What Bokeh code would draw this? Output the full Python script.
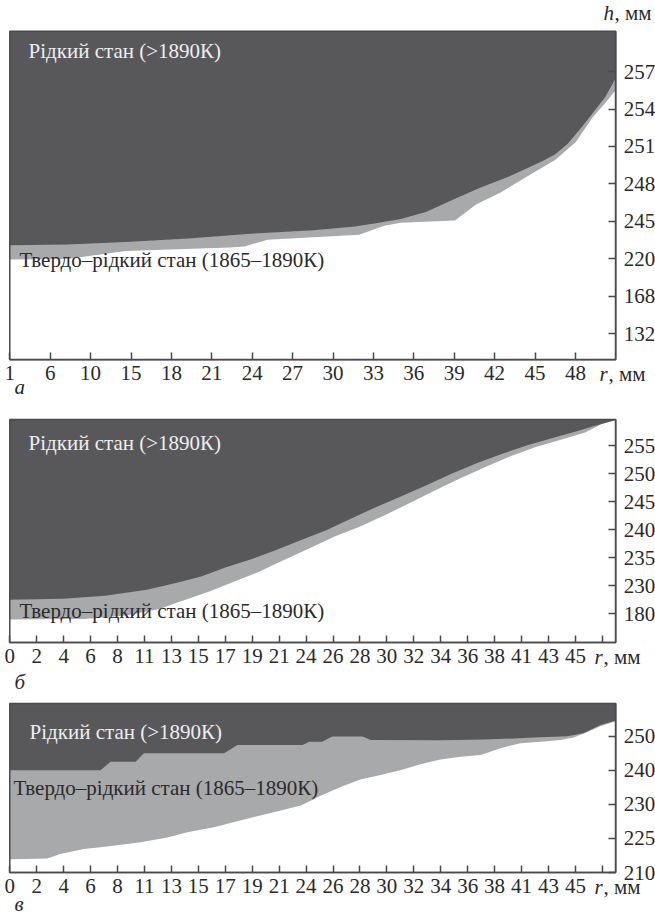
from bokeh.plotting import figure
from bokeh.models import Range1d, Label, FixedTicker, LinearAxis
from bokeh.layouts import column
from bokeh.embed import file_html
from bokeh.resources import INLINE

FONT = "Liberation Serif"
FS = "21px"
DARK = "#58585b"
LIGHT = "#a8a9ab"
EDGE = "#4a4a4a"
INK = "#2b2b2b"

# ---------------- data (positions in axis tick units) ----------------
# panel а
a_x_labels = ["1", "6", "10", "15", "18", "21", "24", "27", "30", "33", "36", "39", "42", "45", "48"]
a_y_labels = ["132", "168", "220", "245", "248", "251", "254", "257"]
a_liq_x = [0, 1.42, 2.87, 4.42, 5.96, 7.51, 8.54, 9.06, 9.68, 10.3, 11.02, 11.64, 12.36, 13.19, 13.5, 13.81, 14.22, 14.74, 15.0]
a_liq_y = [2.36, 2.38, 2.45, 2.54, 2.67, 2.76, 2.86, 2.95, 3.06, 3.25, 3.6, 3.9, 4.2, 4.61, 4.79, 5.07, 5.6, 6.32, 6.83]
a_mush_x = [0, 1.42, 2.87, 5.45, 5.81, 6.38, 8.65, 8.8, 9.27, 9.68, 11.02, 11.54, 12.16, 12.98, 13.5, 14.01, 14.43, 14.74, 15.0]
a_mush_y = [1.98, 1.99, 2.21, 2.3, 2.33, 2.51, 2.64, 2.7, 2.88, 2.96, 3.02, 3.45, 3.78, 4.31, 4.64, 5.12, 5.78, 6.16, 6.51]

# panels б and в share the r labels
bc_x_labels = ["0", "2", "4", "6", "8", "11", "13", "15", "17", "19", "21", "24", "26", "28",
               "30", "32", "34", "36", "38", "41", "43", "45", ""]
# panel б
b_y_labels = ["180", "230", "235", "240", "245", "250", "255"]
b_liq_x = [0, 1.98, 3.53, 5.09, 6.17, 7.1, 8.03, 8.96, 9.89, 10.82, 11.75, 12.68, 13.61, 14.54, 15.47, 16.4, 17.33, 18.26, 19.19, 20.12, 21.05, 21.83, 22.5]
b_liq_y = [0.5, 0.53, 0.64, 0.85, 1.09, 1.33, 1.66, 1.94, 2.27, 2.63, 2.98, 3.4, 3.81, 4.19, 4.58, 4.99, 5.37, 5.7, 6.0, 6.26, 6.51, 6.73, 6.91]
b_mush_x = [0, 2.76, 4.31, 5.55, 6.17, 7.41, 8.34, 9.27, 10.2, 11.13, 12.06, 12.99, 13.92, 14.85, 15.78, 16.71, 17.64, 18.57, 19.5, 20.43, 21.36, 21.98, 22.5]
b_mush_y = [-0.21, -0.19, -0.07, 0.17, 0.38, 0.79, 1.15, 1.5, 1.92, 2.33, 2.75, 3.1, 3.51, 3.95, 4.4, 4.82, 5.23, 5.61, 5.94, 6.2, 6.47, 6.77, 6.91]

# panel в
c_y_labels = ["210", "225", "230", "240", "250"]
c_liq_x = [0, 3.37, 3.74, 4.67, 4.98, 7.96, 8.45, 10.87, 11.12, 11.6, 11.97, 13.1, 13.4, 16.0, 17.6, 19.45, 20.7, 21.3, 21.56, 21.93, 22.5]
c_liq_y = [3.0, 3.0, 3.25, 3.25, 3.5, 3.5, 3.74, 3.74, 3.84, 3.84, 3.99, 3.99, 3.89, 3.88, 3.9, 3.96, 4.0, 4.09, 4.19, 4.33, 4.46]
c_mush_x = [0, 1.39, 1.88, 2.75, 3.37, 4.36, 4.86, 5.85, 6.59, 7.58, 8.33, 9.07, 10.06, 10.81, 11.54, 12.28, 13.02, 13.76, 14.5, 15.25, 15.99, 16.73, 17.48, 18.22, 18.96, 19.71, 20.45, 20.93, 21.45, 21.93, 22.5]
c_mush_y = [0.39, 0.41, 0.54, 0.69, 0.74, 0.84, 0.89, 1.03, 1.18, 1.33, 1.48, 1.63, 1.82, 1.97, 2.25, 2.51, 2.73, 2.86, 3.0, 3.18, 3.32, 3.4, 3.45, 3.65, 3.79, 3.84, 3.89, 3.96, 4.12, 4.29, 4.44]

LIQ_TEXT = "Рідкий стан (>1890К)"
MUSH_TEXT = "Твердо–рідкий стан (1865–1890К)"

W = 655
BOX_L, BOX_R = 9.3, 615.3


def panel(H, T, B, x_end, y0, y1, x_labels, y_labels, liq_x, liq_y, mush_x, mush_y,
          liq_px, mush_px, letter, letter_y, r_x, h_label=False):
    sx = (BOX_R - BOX_L) / x_end
    sy = (B - T) / (y1 - y0)

    def d(px, py):
        return (px - BOX_L) / sx, y0 + (B - py) / sy

    p = figure(width=W, height=H, output_backend="svg", toolbar_location=None, tools="",
               x_range=Range1d(-BOX_L / sx, x_end + (W - BOX_R) / sx),
               y_range=Range1d(y0 - (H - B) / sy, y1 + T / sy),
               x_axis_location=None, y_axis_location=None,
               min_border=0, min_border_left=0, min_border_right=0,
               min_border_top=0, min_border_bottom=0)
    p.grid.visible = False
    p.outline_line_color = None
    p.background_fill_color = "white"
    p.border_fill_color = "white"

    p.varea(x=mush_x, y1=mush_y, y2=[y1] * len(mush_x), fill_color=LIGHT)
    p.varea(x=liq_x, y1=liq_y, y2=[y1] * len(liq_x), fill_color=DARK)
    p.quad(left=[0], right=[x_end], bottom=[y0], top=[y1], fill_color=None,
           line_color=EDGE, line_width=1.5)

    xa = LinearAxis(fixed_location=y0, bounds=(0, x_end),
                    ticker=FixedTicker(ticks=list(range(len(x_labels)))),
                    major_label_overrides={i: lab for i, lab in enumerate(x_labels)})
    ya = LinearAxis(fixed_location=x_end, bounds=(y0, y1),
                    ticker=FixedTicker(ticks=list(range(len(y_labels)))),
                    major_label_overrides={i: lab for i, lab in enumerate(y_labels)})
    for ax in (xa, ya):
        ax.minor_tick_line_color = None
        ax.major_tick_in = 7
        ax.major_tick_out = 0
        ax.major_tick_line_color = EDGE
        ax.major_tick_line_width = 1.5
        ax.axis_line_color = EDGE
        ax.axis_line_width = 1.5
        ax.major_label_text_font = FONT
        ax.major_label_text_font_size = FS
        ax.major_label_text_color = INK
    xa.major_label_standoff = 6
    ya.major_label_standoff = 8
    p.add_layout(xa, "below")
    p.add_layout(ya, "right")

    def lab(px, py, text, color=INK, italic=False):
        x, y = d(px, py)
        p.add_layout(Label(x=x, y=y, text=text, text_font=FONT, text_font_size=FS,
                           text_font_style="italic" if italic else "normal",
                           text_color=color, text_baseline="middle", text_align="left"))

    lab(liq_px[0], liq_px[1], LIQ_TEXT, color="#eeeeee")
    lab(mush_px[0], mush_px[1], MUSH_TEXT)
    lab(r_x, B + 14, "r", italic=True)
    lab(r_x + 9, B + 14, ", мм")
    lab(14, letter_y, letter, italic=True)
    if h_label:
        lab(603, 12, "h", italic=True)
        lab(614, 12, ", мм")
    return p


# panel а: canvas y 0..404
pa = panel(404, 30.7, 359.3, 15, -0.70, 8.08, a_x_labels, a_y_labels,
           a_liq_x, a_liq_y, a_mush_x, a_mush_y, (28, 50), (19, 259), "а", 386, 599, h_label=True)
# panel б: canvas y 404..697
pb = panel(293, 15, 238, 22.5, -1.03, 6.93, bc_x_labels, b_y_labels,
           b_liq_x, b_liq_y, b_mush_x, b_mush_y, (28, 38), (19, 206), "б", 277, 594)
# panel в: canvas y 697..915
pc = panel(218, 6, 175, 22.5, 0.0, 4.96, bc_x_labels, c_y_labels,
           c_liq_x, c_liq_y, c_mush_x, c_mush_y, (29, 34), (13, 90), "в", 206, 594)

layout = column(pa, pb, pc, spacing=0)
open("out.html", "w").write(file_html(layout, INLINE))
